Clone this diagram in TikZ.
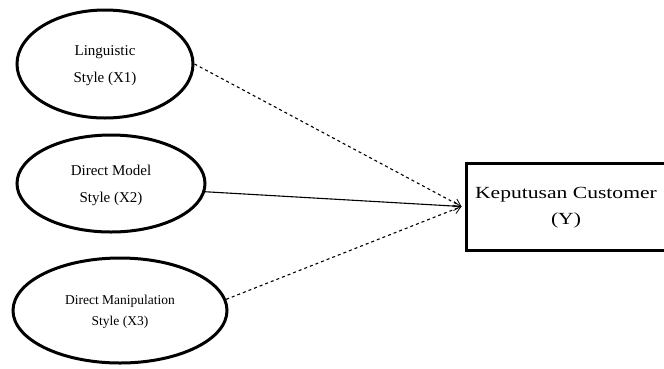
\documentclass[tikz,border=0pt]{standalone}
\usepackage{fontspec}
\setmainfont{Liberation Serif}
\newfontfamily\boxfont[FakeStretch=1.27]{Liberation Serif}
\usetikzlibrary{arrows.meta,shapes.geometric}
\tikzset{
  latent/.style={ellipse, draw, line width=3pt, inner sep=0pt, align=center},
  txtA/.style={font=\fontsize{15}{27}\selectfont},
  txtB/.style={font=\fontsize{13.5}{21}\selectfont},
  outbox/.style={rectangle, draw, line width=3pt, inner sep=0pt, align=center,
    font=\boxfont\fontsize{17}{26}\selectfont},
  path1/.style={line width=1.1pt, -{Straight Barb[length=7pt,width=9pt,line width=0.8pt]}},
}
\begin{document}
\begin{tikzpicture}[x=1pt,y=-1pt]
\useasboundingbox (0,0) rectangle (664,368);
\node[latent, txtA, minimum width=176pt, minimum height=108pt] (e1) at (105,64)
  {\raisebox{5pt}{\begin{tabular}{@{}c@{}}Linguistic\\Style (X1)\end{tabular}}};
\node[latent, txtA, minimum width=188pt, minimum height=97pt] (e2) at (111,183.5)
  {\raisebox{-5pt}{\begin{tabular}{@{}c@{}}Direct Model\\Style (X2)\end{tabular}}};
\node[latent, txtB, minimum width=214pt, minimum height=105pt] (e3) at (120,310.5)
  {\raisebox{-7pt}{\begin{tabular}{@{}c@{}}Direct Manipulation\\Style (X3)\end{tabular}}};
\node[outbox, minimum width=206pt, minimum height=87pt] (y) at (569,206.5)
  {\hspace*{-6pt}\begin{tabular}{@{}c@{}}Keputusan Customer\\(Y)\end{tabular}};
\draw[path1, dashed] (e1.east) -- ([xshift=-3pt]y.west);
\draw[path1] (e2.-5) -- ([xshift=-3pt]y.west);
\draw[path1, dashed] (e3.6) -- ([xshift=-3pt]y.west);
\end{tikzpicture}
\end{document}
